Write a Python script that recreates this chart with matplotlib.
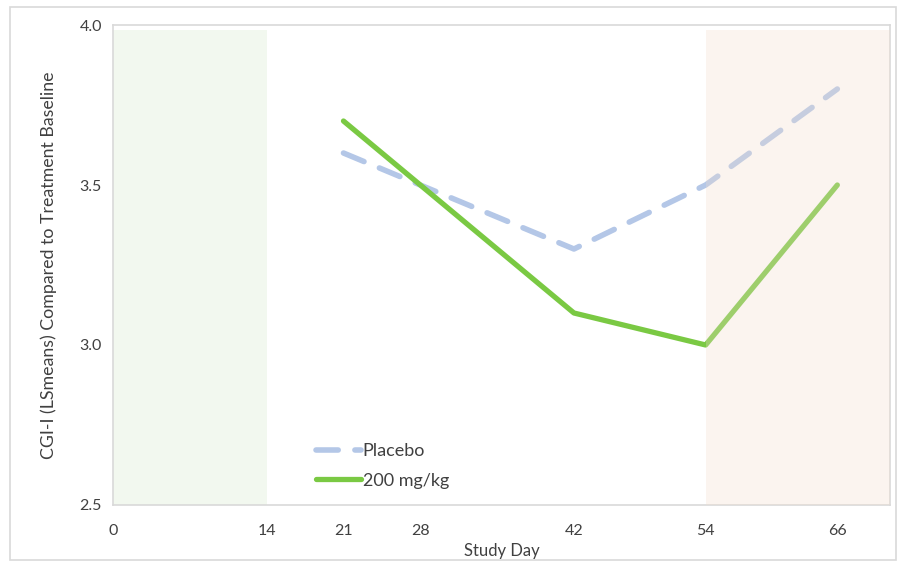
import matplotlib.pyplot as plt
from matplotlib.patches import Rectangle

days = [21, 28, 42, 54, 66]
placebo = [3.6, 3.5, 3.3, 3.5, 3.8]
dose_200 = [3.7, 3.5, 3.1, 3.0, 3.5]
xticks = [0, 14, 21, 28, 42, 54, 66]
yticks = [2.5, 3.0, 3.5, 4.0]

plt.rcParams["font.family"] = ["Lato", "DejaVu Sans"]

fig = plt.figure(figsize=(9.02, 5.66), dpi=100)
fig.patches.append(Rectangle((0.011, 0.01), 0.982, 0.977, transform=fig.transFigure,
                             fill=False, edgecolor="#D9D9D9", linewidth=1.2))
ax = fig.add_axes([0.1253, 0.1078, 0.8614, 0.848])

ax.plot(days, placebo, color="#B4C7E7", linewidth=4, dashes=(4, 3.0),
        dash_capstyle="round", solid_capstyle="round", label="Placebo", zorder=2)
ax.plot(days, dose_200, color="#7AC943", linewidth=3.8, solid_capstyle="round",
        label="200 mg/kg", zorder=2)

# shaded study phases (peach one lies over the lines)
ax.axvspan(0, 14, ymax=0.99, color="#F2F8EF", zorder=1, linewidth=0)
ax.axvspan(54, 70.8, ymax=0.99, color="#F2DCCD", alpha=0.3, zorder=3, linewidth=0)

ax.set_xlim(0, 70.8)
ax.set_ylim(2.5, 4.0)
ax.set_xticks(xticks)
ax.set_yticks(yticks)
ax.set_yticklabels([f"{v:.1f}" for v in yticks])
ax.tick_params(length=0, labelsize=11.5, colors="#404040", pad=8)
ax.tick_params(axis="x", pad=14)
for s in ax.spines.values():
    s.set_color("#D9D9D9")
    s.set_linewidth(1.2)

ax.set_xlabel("Study Day", fontsize=12, color="#404040", labelpad=3)
ax.set_ylabel("CGI-I (LSmeans) Compared to Treatment Baseline", fontsize=12.8,
              color="#404040", labelpad=16)

leg = ax.legend(loc="lower left", bbox_to_anchor=(0.24, 0.0), frameon=False,
                fontsize=13, handlelength=2.5, handletextpad=0.1, labelspacing=0.75)
for t in leg.get_texts():
    t.set_color("#404040")

fig.savefig("out.png", dpi=100)
